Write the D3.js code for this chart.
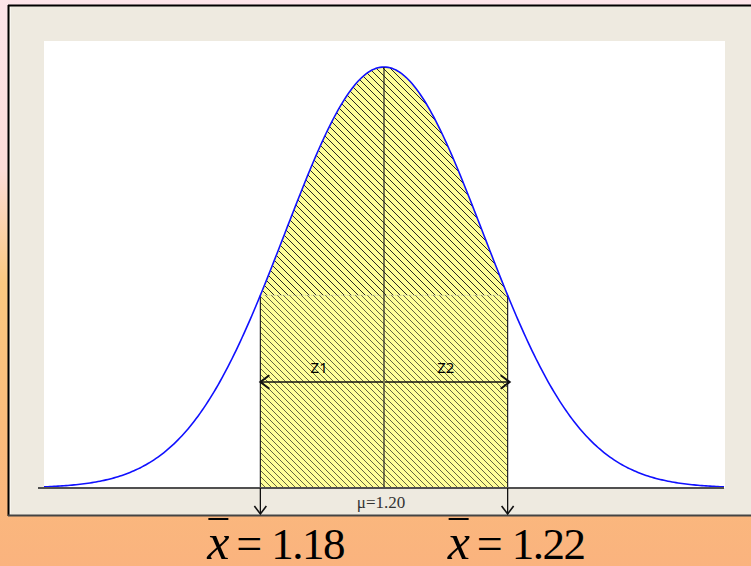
<!DOCTYPE html>
<html>
<head>
<meta charset="utf-8">
<script src="https://cdn.jsdelivr.net/npm/d3@7"></script>
<style>
  html, body { margin: 0; padding: 0; background: #fab57f; }
  svg { display: block; }
  .eqA { font-family: "Liberation Serif"; }
  .zFont { font-family: "Noto Sans"; }
</style>
</head>
<body>
<script>
// Sampling distribution of the mean: population mean and standard error
const mu = [1.20];
const sigma = [0.016];
// Sample means marking the shaded interval
const sampleMeans = [1.18, 1.22];
const sampleLabels = ["1.18", "1.22"];
const zLabels = ["Z1", "Z2"];
const muLabel = ["\u03bc=1.20"];
const xDomain = [1.145, 1.255];

const W = 751, H = 566;
const svg = d3.select("body").append("svg").attr("width", W).attr("height", H);
const defs = svg.append("defs");

// page background: pink at the top fading to orange
const bg = defs.append("linearGradient").attr("id", "bg").attr("x1", 0).attr("y1", 0).attr("x2", 0).attr("y2", 1);
[[0, "#fde5ea"], [0.3, "#fcdcd8"], [0.5, "#fbc981"], [0.75, "#fbbd7c"], [1, "#fab37e"]]
  .forEach(([o, c]) => bg.append("stop").attr("offset", o).attr("stop-color", c));
svg.append("rect").attr("width", W).attr("height", H).attr("fill", "url(#bg)");

// hatch patterns for the shaded probability area
const hatchA = defs.append("pattern").attr("id", "hatchA").attr("patternUnits", "userSpaceOnUse")
  .attr("width", 7).attr("height", 7);
hatchA.append("rect").attr("width", 7).attr("height", 7).attr("fill", "#ffff99");
hatchA.append("path").attr("d", "M-1,-1 L8,8 M-1,6 L1,8 M6,-1 L8,1")
  .attr("stroke", "#111").attr("stroke-width", 0.9);

const hatchB = defs.append("pattern").attr("id", "hatchB").attr("patternUnits", "userSpaceOnUse")
  .attr("width", 6).attr("height", 6);
hatchB.append("rect").attr("width", 6).attr("height", 6).attr("fill", "#ffff99");
hatchB.append("path").attr("d", "M-1,-1 L7,7 M-1,5 L1,7 M5,-1 L7,1")
  .attr("stroke", "#4a4a30").attr("stroke-width", 0.85);

// window panel
svg.append("rect").attr("x", 8).attr("y", 5).attr("width", W - 8).attr("height", 511).attr("fill", "#eeeae0");
svg.append("line").attr("x1", 8).attr("x2", W).attr("y1", 5.5).attr("y2", 5.5).attr("stroke", "#000").attr("stroke-width", 2);
svg.append("line").attr("x1", 8.5).attr("x2", 8.5).attr("y1", 5).attr("y2", 516).attr("stroke", "#000").attr("stroke-width", 2);
svg.append("line").attr("x1", 10.5).attr("x2", 10.5).attr("y1", 7).attr("y2", 514).attr("stroke", "#f8f6f0").attr("stroke-width", 1);
svg.append("line").attr("x1", 8).attr("x2", W).attr("y1", 515.5).attr("y2", 515.5).attr("stroke", "#444").attr("stroke-width", 2);

// plotting area
const plot = { left: 44, right: 724, top: 41, base: 488, peak: 67 };
svg.append("rect").attr("x", plot.left).attr("y", plot.top)
  .attr("width", plot.right - plot.left + 1).attr("height", plot.base - plot.top).attr("fill", "#fff");

const pdf = v => Math.exp(-0.5 * ((v - mu[0]) / sigma[0]) ** 2) / (sigma[0] * Math.sqrt(2 * Math.PI));

const x = d3.scaleLinear().domain(xDomain).range([plot.left, plot.right]);
const y = d3.scaleLinear().domain([0, pdf(mu[0])]).range([plot.base, plot.peak]);

const curvePts = d3.range(0, 341).map(i => xDomain[0] + (xDomain[1] - xDomain[0]) * i / 340);
const shadePts = curvePts.filter(v => v >= sampleMeans[0] && v <= sampleMeans[1]);
shadePts.unshift(sampleMeans[0]);
shadePts.push(sampleMeans[1]);

// upper shaded region under the curve
const area = d3.area().x(d => x(d)).y0(y(0)).y1(d => y(pdf(d)));
svg.append("path").datum(shadePts).attr("d", area).attr("fill", "url(#hatchA)");

// lower rectangle between the two sample means
const rectTop = y(pdf(sampleMeans[0]));
svg.append("rect").attr("x", x(sampleMeans[0])).attr("y", rectTop)
  .attr("width", x(sampleMeans[1]) - x(sampleMeans[0])).attr("height", y(0) - rectTop)
  .attr("fill", "url(#hatchB)");
svg.append("line").attr("x1", x(sampleMeans[0])).attr("x2", x(sampleMeans[1]))
  .attr("y1", rectTop).attr("y2", rectTop)
  .attr("stroke", "#bbb").attr("stroke-width", 1).attr("stroke-dasharray", "1,2");
sampleMeans.forEach(v => {
  svg.append("line").attr("x1", x(v)).attr("x2", x(v)).attr("y1", y(pdf(v))).attr("y2", y(0))
    .attr("stroke", "#222").attr("stroke-width", 1.2);
});

// normal curve
svg.append("path").datum(curvePts)
  .attr("d", d3.line().x(d => x(d)).y(d => y(pdf(d))))
  .attr("fill", "none").attr("stroke", "#1010ff").attr("stroke-width", 1.6);

// mean line
svg.append("line").attr("x1", x(mu[0])).attr("x2", x(mu[0])).attr("y1", y(pdf(mu[0]))).attr("y2", y(0))
  .attr("stroke", "#222").attr("stroke-width", 1.2);

// z arrows
const arrowY = 382;
function chevron(tx, ty, dx, dy, size) {
  // open arrow head with its tip at (tx,ty) pointing along (dx,dy)
  const px = -dy, py = dx;
  return `M${tx - dx * size + px * size * 0.75},${ty - dy * size + py * size * 0.75} L${tx},${ty} L${tx - dx * size - px * size * 0.75},${ty - dy * size - py * size * 0.75}`;
}
sampleMeans.forEach((v, i) => {
  const x0 = x(mu[0]) + (i === 0 ? -1 : 1), x1 = x(v) + (i === 0 ? 0 : 2);
  svg.append("line").attr("x1", x0).attr("x2", x1).attr("y1", arrowY).attr("y2", arrowY)
    .attr("stroke", "#111").attr("stroke-width", 1.5);
  svg.append("path").attr("d", chevron(x1, arrowY, i === 0 ? -1 : 1, 0, 9))
    .attr("fill", "none").attr("stroke", "#111").attr("stroke-width", 2);
  svg.append("text").attr("class", "zFont").attr("x", (x(mu[0]) + x(v)) / 2 + (i === 0 ? -3 : 0)).attr("y", arrowY - 9)
    .attr("text-anchor", "middle").attr("font-size", 15).attr("fill", "#000").text(zLabels[i]);
});

// axis baseline
svg.append("line").attr("x1", 38).attr("x2", plot.right).attr("y1", plot.base).attr("y2", plot.base)
  .attr("stroke", "#505050").attr("stroke-width", 2);

// down arrows to the sample means
sampleMeans.forEach(v => {
  svg.append("line").attr("x1", x(v)).attr("x2", x(v)).attr("y1", plot.base).attr("y2", 514)
    .attr("stroke", "#111").attr("stroke-width", 1.3);
  svg.append("path").attr("d", chevron(x(v), 514, 0, 1, 8))
    .attr("fill", "none").attr("stroke", "#111").attr("stroke-width", 1.6);
});

svg.append("text").attr("class", "eqA").attr("x", x(mu[0]) - 3).attr("y", 508).attr("text-anchor", "middle")
  .attr("font-size", 17).attr("fill", "#333").text(muLabel[0]);

// equations under the chart, plain serif text
sampleMeans.forEach((v, i) => {
  const gx = x(v) - 53 - (i === 0 ? 0 : 7);
  const g = svg.append("g").attr("transform", `translate(${gx},559)`);
  g.append("text").attr("class", "eqA").attr("font-style", "italic").attr("font-size", 50).text("x");
  g.append("line").attr("x1", 1).attr("x2", 21).attr("y1", -40).attr("y2", -40)
    .attr("stroke", "#000").attr("stroke-width", 2);
  g.append("text").attr("class", "eqA").attr("x", 29).attr("font-size", 46).text("=");
  g.append("text").attr("class", "eqA").attr("x", 64).attr("font-size", 45)
    .attr("letter-spacing", -1.5).text(sampleLabels[i]);
});
</script>
</body>
</html>
